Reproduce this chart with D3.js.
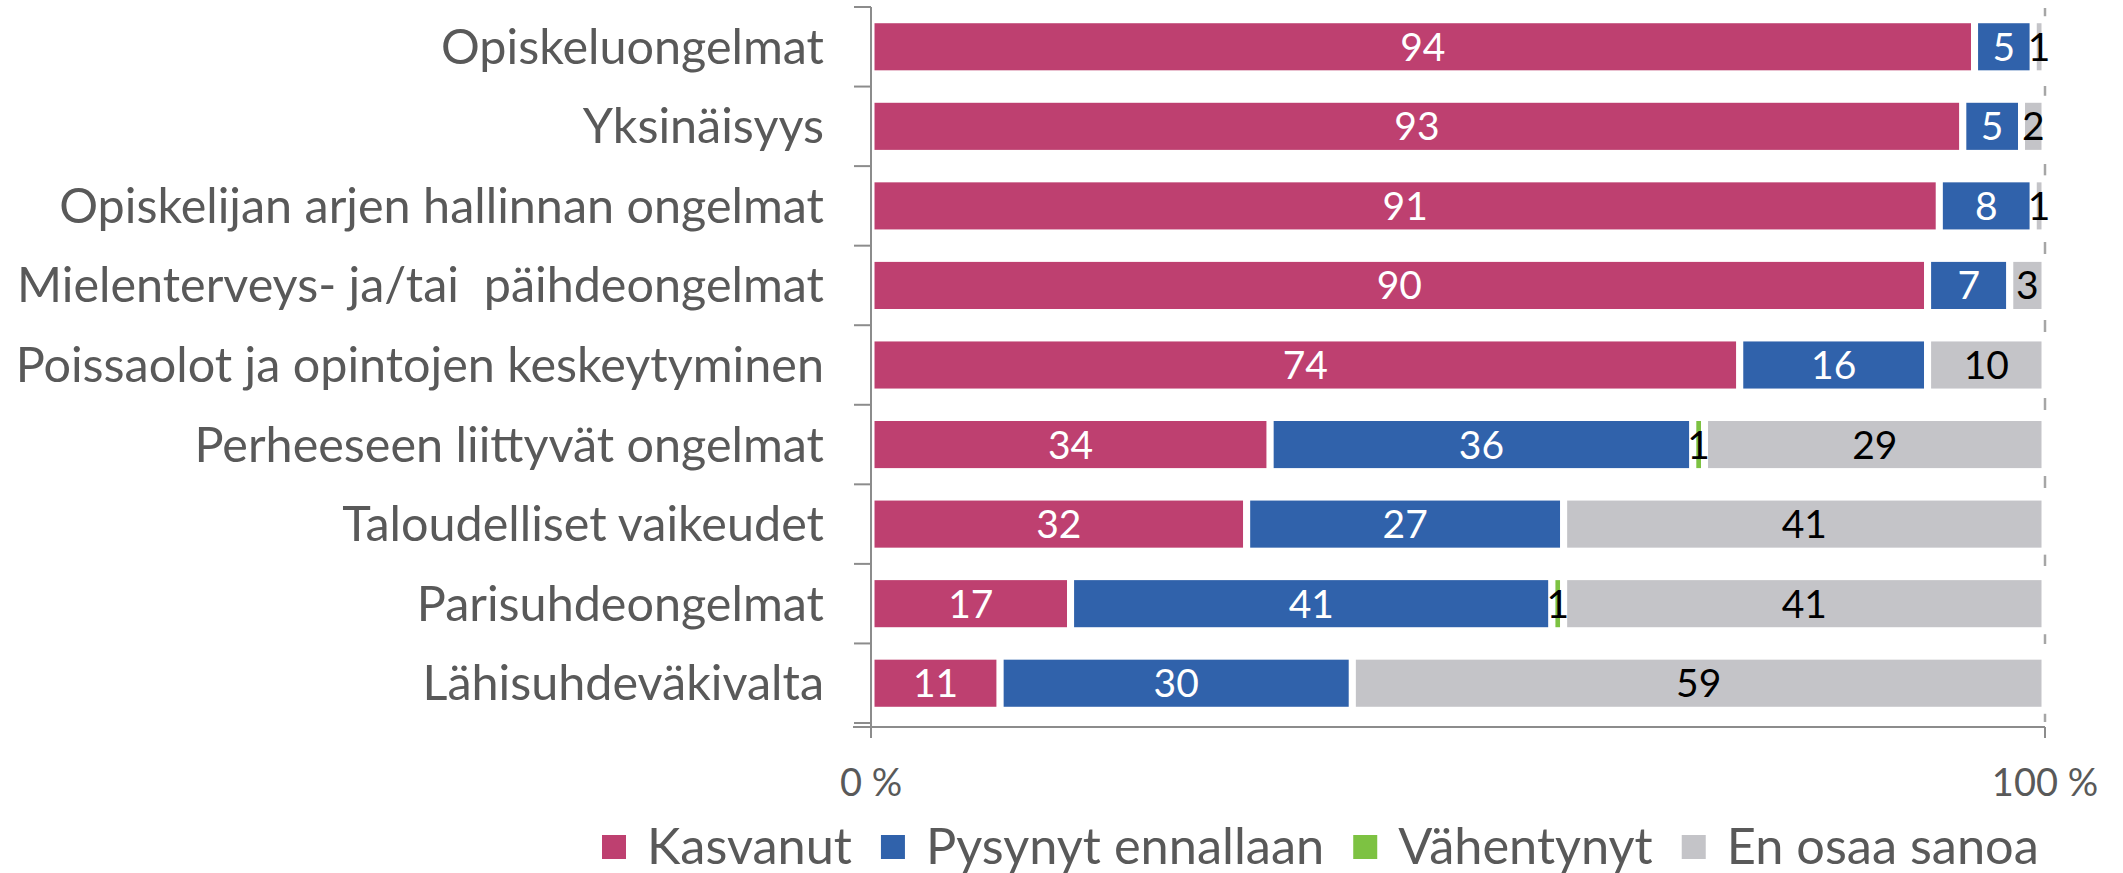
<!DOCTYPE html>
<html>
<head>
<meta charset="utf-8">
<script src="https://cdn.jsdelivr.net/npm/d3@7"></script>
<style>
  body { margin: 0; background: #fff; }
  text { font-family: Lato, "Open Sans", sans-serif; }
</style>
</head>
<body>
<div id="chart"></div>
<script>
// data
var categories = [
  "Opiskeluongelmat",
  "Yksinäisyys",
  "Opiskelijan arjen hallinnan ongelmat",
  "Mielenterveys- ja/tai  päihdeongelmat",
  "Poissaolot ja opintojen keskeytyminen",
  "Perheeseen liittyvät ongelmat",
  "Taloudelliset vaikeudet",
  "Parisuhdeongelmat",
  "Lähisuhdeväkivalta"
];
var seriesNames = ["Kasvanut", "Pysynyt ennallaan", "Vähentynyt", "En osaa sanoa"];
var kasvanut = [94, 93, 91, 90, 74, 34, 32, 17, 11];
var pysynyt  = [5, 5, 8, 7, 16, 36, 27, 41, 30];
var vahentynyt = [0, 0, 0, 0, 0, 1, 0, 1, 0];
var enOsaa   = [1, 2, 1, 3, 10, 29, 41, 41, 59];
var tickValues = [0, 100];

var colors = ["#be4070", "#3062ab", "#7dc242", "#c4c4c8"];
var labelColors = ["#ffffff", "#ffffff", "#000000", "#000000"];

var width = 2123;
var height = 873;

var svg = d3.select("#chart")
  .append("svg")
    .attr("width", width)
    .attr("height", height);

// build rows for the stack
var rows = categories.map(function(c, i) {
  return {
    name: c,
    "Kasvanut": kasvanut[i],
    "Pysynyt ennallaan": pysynyt[i],
    "Vähentynyt": vahentynyt[i],
    "En osaa sanoa": enOsaa[i]
  };
});
var stacked = d3.stack().keys(seriesNames)(rows);

// scales
var x = d3.scaleLinear().domain([0, 100]).range([871, 2045]);
var y = d3.scaleBand()
  .domain(categories)
  .range([7, 723])
  .paddingInner(0.32)
  .paddingOuter(0.16);

var axisColor = "#8c8c8c";
var textColor = "#595959";

// dashed line at 100 %
svg.append("line")
  .attr("x1", x(100)).attr("x2", x(100))
  .attr("y1", 8).attr("y2", 727)
  .attr("stroke", "#a6a6a6")
  .attr("stroke-width", 2.5)
  .attr("stroke-dasharray", "12,14");

// bars
var layer = svg.append("g")
  .selectAll("g")
  .data(stacked)
  .enter()
  .append("g")
    .attr("fill", function(d, i) { return colors[i]; });

layer.selectAll("rect")
  .data(function(d) { return d.filter(function(s) { return s[1] - s[0] > 0; }); })
  .enter()
  .append("rect")
    .attr("x", function(d) { return x(d[0]); })
    .attr("width", function(d) { return x(d[1]) - x(d[0]); })
    .attr("y", function(d) { return y(d.data.name); })
    .attr("height", y.bandwidth())
    .attr("stroke", "#ffffff")
    .attr("stroke-width", 7);

// value labels
stacked.forEach(function(s, si) {
  svg.append("g")
    .selectAll("text")
    .data(s.filter(function(d) { return d[1] - d[0] > 0; }))
    .enter()
    .append("text")
      .attr("x", function(d) { return x((d[0] + d[1]) / 2); })
      .attr("y", function(d) { return y(d.data.name) + y.bandwidth() / 2; })
      .attr("dy", "0.36em")
      .attr("text-anchor", "middle")
      .attr("fill", labelColors[si])
      .style("font-size", "39px")
      .text(function(d) { return d[1] - d[0]; });
});

// y axis line and ticks at band edges
svg.append("line")
  .attr("x1", x(0)).attr("x2", x(0))
  .attr("y1", y.range()[0]).attr("y2", 727)
  .attr("stroke", axisColor).attr("stroke-width", 2);

svg.append("g")
  .selectAll("line")
  .data(d3.range(categories.length + 1))
  .enter()
  .append("line")
    .attr("x1", x(0) - 17).attr("x2", x(0))
    .attr("y1", function(i) { return y.range()[0] + i * y.step(); })
    .attr("y2", function(i) { return y.range()[0] + i * y.step(); })
    .attr("stroke", axisColor).attr("stroke-width", 2);

// category labels
svg.append("g")
  .selectAll("text")
  .data(categories)
  .enter()
  .append("text")
    .attr("x", 824)
    .attr("y", function(d) { return y(d) + y.bandwidth() / 2; })
    .attr("dy", "0.35em")
    .attr("text-anchor", "end")
    .attr("fill", textColor)
    .style("font-size", "48.5px")
    .style("white-space", "pre")
    .text(function(d) { return d; });

// x axis
svg.append("line")
  .attr("x1", x(0) - 18).attr("x2", x(100))
  .attr("y1", 727).attr("y2", 727)
  .attr("stroke", axisColor).attr("stroke-width", 2);

svg.append("g")
  .selectAll("line")
  .data(tickValues)
  .enter()
  .append("line")
    .attr("x1", function(d) { return x(d); })
    .attr("x2", function(d) { return x(d); })
    .attr("y1", 727).attr("y2", 738)
    .attr("stroke", axisColor).attr("stroke-width", 2);

svg.append("g")
  .selectAll("text")
  .data(tickValues)
  .enter()
  .append("text")
    .attr("x", function(d) { return x(d); })
    .attr("y", 783)
    .attr("dy", "0.35em")
    .attr("text-anchor", "middle")
    .attr("fill", textColor)
    .style("font-size", "38px")
    .text(function(d) { return d + " %"; });

// legend
var legend = svg.append("g");
var lx = 602;
seriesNames.forEach(function(name, i) {
  legend.append("rect")
    .attr("x", lx).attr("y", 835)
    .attr("width", 24).attr("height", 24)
    .attr("fill", colors[i]);
  var t = legend.append("text")
    .attr("x", lx + 45)
    .attr("y", 864)
    .attr("fill", textColor)
    .style("font-size", "50.5px")
    .text(name);
  lx = lx + 45 + t.node().getComputedTextLength() + 29;
});
</script>
</body>
</html>
